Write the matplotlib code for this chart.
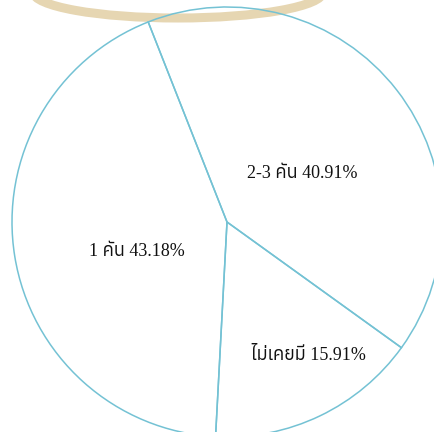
import matplotlib
matplotlib.use('Agg')
import matplotlib.pyplot as plt
from matplotlib import font_manager, ft2font
from matplotlib.patches import Ellipse

# ข้อมูล
labels = ['2-3 คัน', 'ไม่เคยมี', '1 คัน']
values = [40.91, 15.91, 43.18]

# หา font ที่มีตัวอักษรไทย
thai_fonts = []
for f in font_manager.fontManager.ttflist:
    try:
        if ft2font.FT2Font(f.fname).get_char_index(ord('ค')):
            thai_fonts.append(f.name)
    except Exception:
        pass
families = ['Liberation Serif'] + sorted(set(thai_fonts)) + ['DejaVu Sans']

fig = plt.figure(figsize=(4.35, 4.32), dpi=100)
ax = fig.add_axes([0, 0, 1, 1])

# วงรีสีครีมด้านบน
ax.add_patch(Ellipse((178, 440), 290, 52, fill=False, edgecolor='#e6d6b2', lw=6.5, zorder=1))

wedges, _ = ax.pie(values, center=(227, 210), radius=215, startangle=111.5, counterclock=False,
                   wedgeprops=dict(facecolor='none', edgecolor='#74c2d4', linewidth=1.1),
                   frame=True)
for w in wedges:
    w.set_zorder(2)
ax.set_xlim(0, 435)
ax.set_ylim(0, 432)
ax.set_aspect('equal')
ax.axis('off')

label_pos = [(302, 258), (308, 77), (137, 180)]
for lab, v, (x, y) in zip(labels, values, label_pos):
    ax.text(x, y, '%s %.2f%%' % (lab, v), ha='center', va='center', fontsize=13,
            family=families, color='#111111', zorder=3)

plt.savefig('out.png', dpi=100)
